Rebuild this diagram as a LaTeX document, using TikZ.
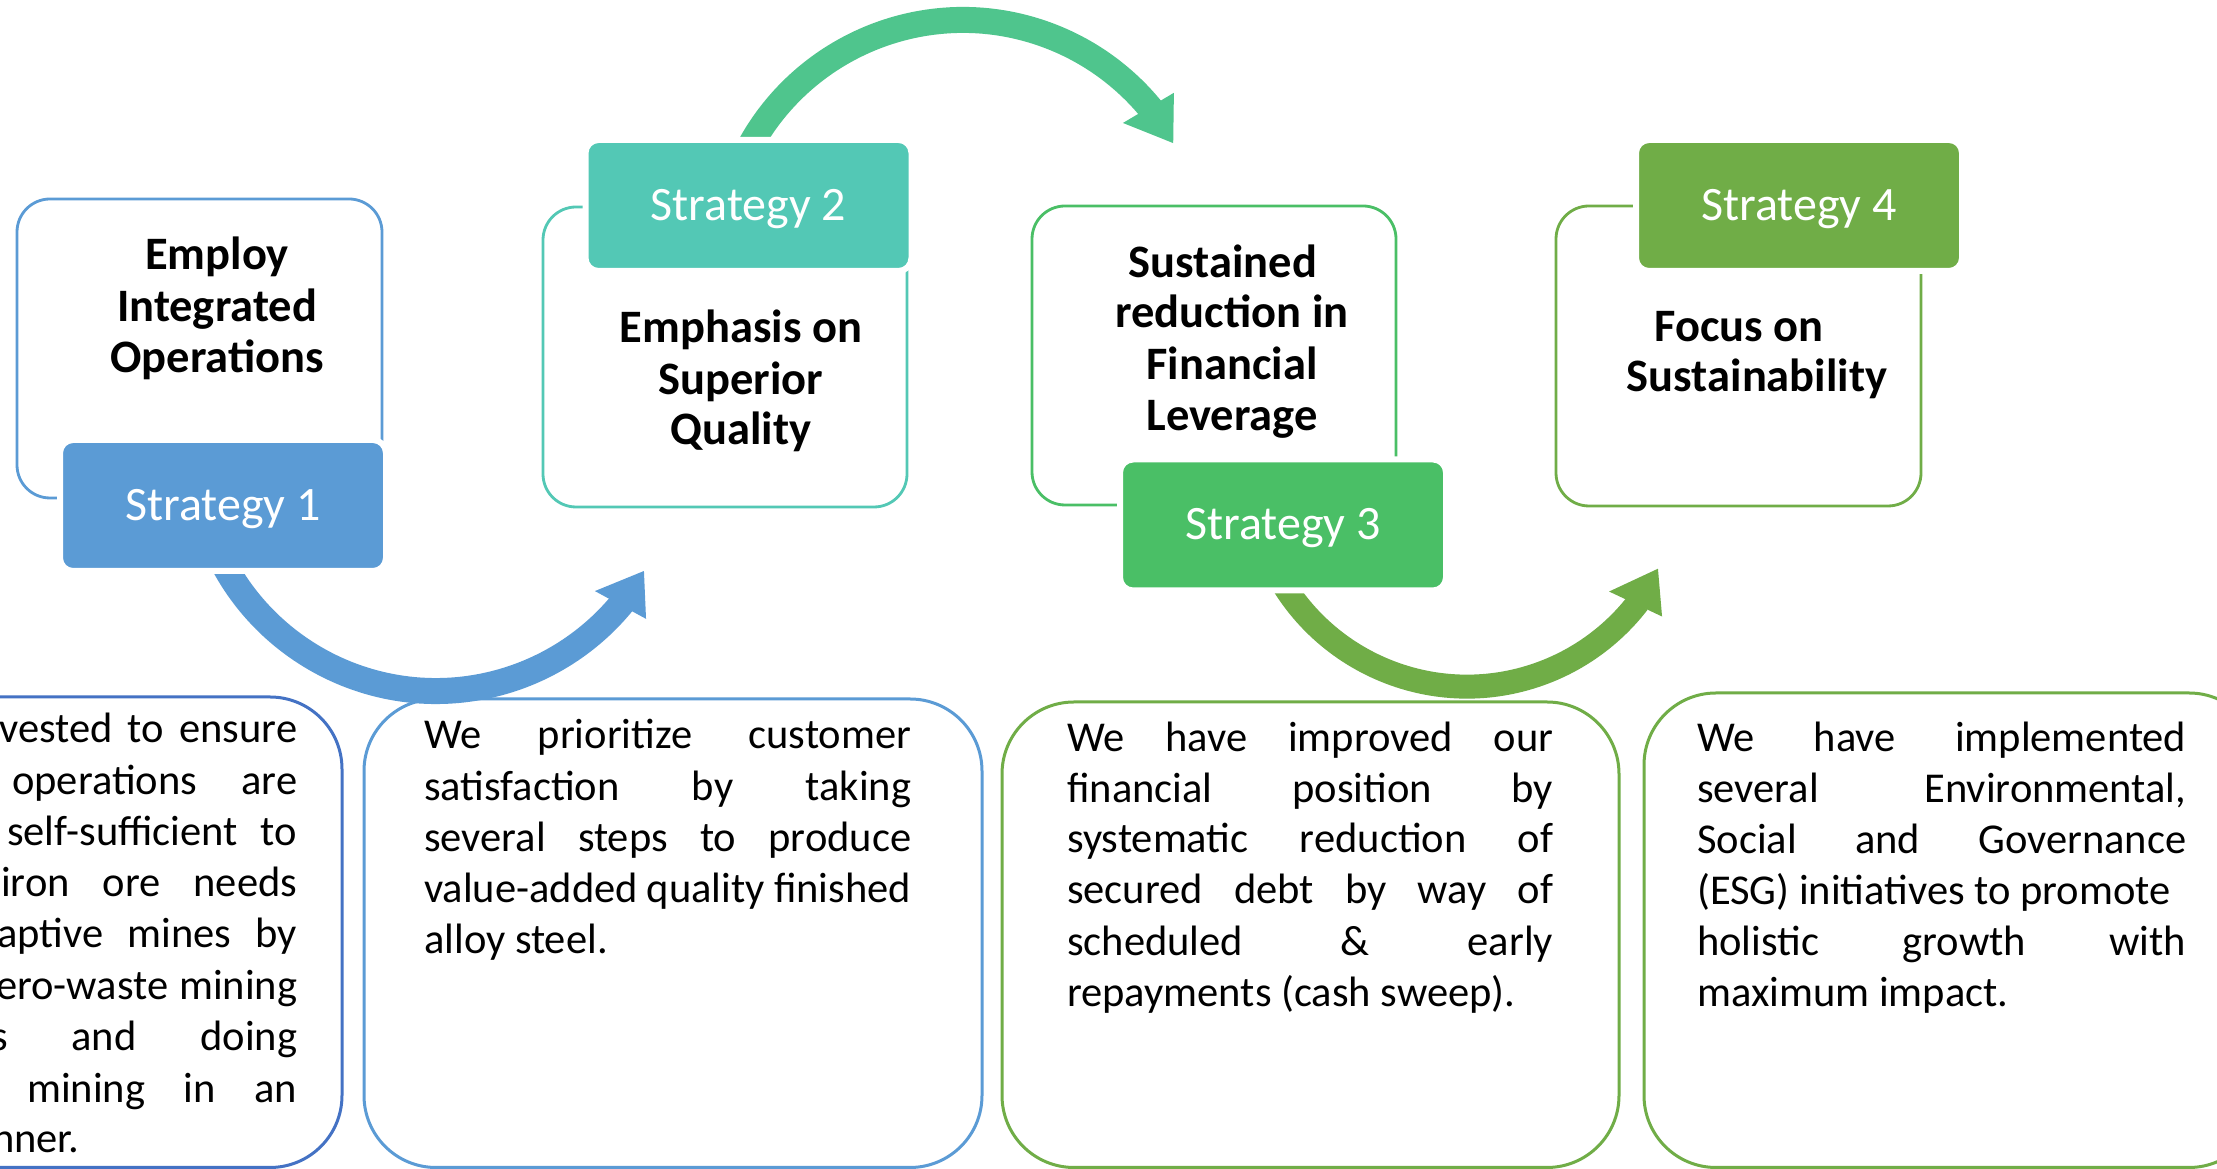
\documentclass[tikz,border=0pt]{standalone}
\usepackage{fontspec}
\setmainfont{Carlito}
\definecolor{blueA}{HTML}{4472C4}
\definecolor{blueS}{HTML}{5B9BD5}
\definecolor{tealS}{HTML}{53C8B5}
\definecolor{greenS}{HTML}{4ABF66}
\definecolor{greenD}{HTML}{70AD47}
\definecolor{mintA}{HTML}{4FC58D}
\newcommand\stratfont{\fontsize{48}{57}\selectfont}
\newcommand\headfont{\bfseries\fontsize{46.5}{52}\selectfont}
\newcommand\bodyfont{\fontsize{42.5}{51}\selectfont}
\newcommand\jline[2]{\makebox[#1pt][s]{#2}}
\tikzset{
  outl/.style={draw=#1, line width=2.8pt, rounded corners=33pt, inner sep=0pt},
  sbox/.style={fill=#1, draw=white, line width=6pt, rounded corners=13pt,
    minimum width=326pt, minimum height=131pt, inner sep=0pt, text=white,
    font=\stratfont, text height=30pt, text depth=0pt},
  bbox/.style={draw=#1, line width=3pt, rounded corners=72pt, inner sep=0pt},
  head/.style={anchor=base, font=\headfont, inner sep=0pt},
  body/.style={anchor=base west, font=\bodyfont, inner sep=0pt},
  band/.style={draw=#1, line width=26pt},
}
\begin{document}
\begin{tikzpicture}[x=1pt,y=1pt]
\useasboundingbox (0,0) rectangle (2217,1169);
\fill[white] (0,0) rectangle (2217,1169);
\clip (0,0) rectangle (2217,1169);

% bottom boxes
\node[bbox=blueA, minimum width=617pt, minimum height=470.5pt] (b1) at (33.5,236.75) {};
\node[bbox=blueS, minimum width=618pt, minimum height=468.5pt] (b2) at (673,235.75) {};
\node[bbox=greenD, minimum width=617pt, minimum height=465.5pt] (b3) at (1310.5,234.25) {};
\node[bbox=greenD, minimum width=617pt, minimum height=474.5pt] (b4) at (1952.5,238.75) {};

% box A text (cut at left edge, as in the reference)
\node[body] (t1a) at (-1,426) {\jline{298}{vested to ensure}};
\node[body] (t1b) at (12,374) {\jline{285}{operations are}};
\node[body] (t1c) at (7,323) {\jline{290}{self-sufficient to}};
\node[body] (t1d) at (1,272) {\jline{296}{iron ore needs}};
\node[body] (t1e) at (-3,221) {\jline{300}{aptive mines by}};
\node[body] (t1f) at (-4,169) {\jline{301}{ero-waste mining}};
\node[body] (t1g) at (-9,118) {\jline{306}{s and doing}};
\node[body] (t1h) at (27,66) {\jline{270}{mining in an}};
\node[body] (t1i) at (-8,16) {nner.};

% box B text
\node[body] (t2a) at (424,420) {\jline{487}{We prioritize customer}};
\node[body] (t2b) at (424,368) {\jline{487}{satisfaction by taking}};
\node[body] (t2c) at (424,317) {\jline{487}{several steps to produce}};
\node[body] (t2d) at (424,266) {\jline{487}{value-added quality finished}};
\node[body] (t2e) at (424,215) {alloy steel.};

% box C text
\node[body] (t3a) at (1067,417) {\jline{486}{We have improved our}};
\node[body] (t3b) at (1067,366) {\jline{486}{financial position by}};
\node[body] (t3c) at (1067,316) {\jline{486}{systematic reduction of}};
\node[body] (t3d) at (1067,265) {\jline{486}{secured debt by way of}};
\node[body] (t3e) at (1067,213) {\jline{486}{scheduled \& early}};
\node[body] (t3f) at (1067,162) {repayments (cash sweep).};

% box D text
\node[body] (t4a) at (1697,417) {\jline{489}{We have implemented}};
\node[body] (t4b) at (1697,366) {\jline{489}{several Environmental,}};
\node[body] (t4c) at (1697,315) {\jline{489}{Social and Governance}};
\node[body] (t4d) at (1697,264) {(ESG) initiatives to promote};
\node[body] (t4e) at (1697,213) {\jline{489}{holistic growth with}};
\node[body] (t4f) at (1697,162) {maximum impact.};

% top outline boxes
\node[outl=blueS, minimum width=365pt, minimum height=299pt] (o1) at (199.5,820.5) {};
\node[outl=tealS, minimum width=364pt, minimum height=300pt] (o2) at (725,812) {};
\node[outl=greenS, minimum width=364pt, minimum height=299pt] (o3) at (1214,813.5) {};
\node[outl=greenD, minimum width=365pt, minimum height=300pt] (o4) at (1738.5,813) {};

% curved arrows
\coordinate (c1) at (436,719);
\draw[band=blueS] ([shift={(195:241pt)}]c1) arc[start angle=195, end angle=321, radius=241pt];
\fill[blueS] ([shift={(318.4:212.5pt)}]c1) -- ([shift={(321.2:269.5pt)}]c1) -- ([shift={(329.8:240.6pt)}]c1) -- cycle;

\coordinate (c2) at (963,906);
\draw[band=mintA] ([shift={(160:243pt)}]c2) arc[start angle=160, end angle=39.3, radius=243pt];
\fill[mintA] ([shift={(41.2:212.6pt)}]c2) -- ([shift={(38.9:271pt)}]c2) -- ([shift={(29.7:242pt)}]c2) -- cycle;

\coordinate (c3) at (1467,698.4);
\draw[band=greenD, line width=24pt] ([shift={(200:216pt)}]c3) arc[start angle=200, end angle=322.4, radius=216pt];
\fill[greenD] ([shift={(319.6:186.6pt)}]c3) -- ([shift={(323.2:243.6pt)}]c3) -- ([shift={(332.8:214.7pt)}]c3) -- cycle;

% strategy boxes
\node[sbox=blueS] (s1) at (223,663.5) {Strategy 1};
\node[sbox=tealS] (s2) at (748.5,963.5) {Strategy 2};
\node[sbox=greenS] (s3) at (1283,644) {Strategy 3};
\node[sbox=greenD] (s4) at (1799,963.5) {Strategy 4};

% headings
\node[head] (h1a) at (217,899) {Employ};
\node[head] (h1b) at (217,847) {Integrated};
\node[head] (h1c) at (217,796) {Operations};

\node[head] (h2a) at (741,826) {Emphasis on};
\node[head] (h2b) at (741,774) {Superior};
\node[head] (h2c) at (741,724) {Quality};

\node[head] (h3a) at (1223,891) {Sustained};
\node[head] (h3b) at (1232,841) {reduction in};
\node[head] (h3c) at (1232,789) {Financial};
\node[head] (h3d) at (1232,738) {Leverage};

\node[head] (h4a) at (1739,827) {Focus on};
\node[head] (h4b) at (1757,777) {Sustainability};
\end{tikzpicture}
\end{document}
